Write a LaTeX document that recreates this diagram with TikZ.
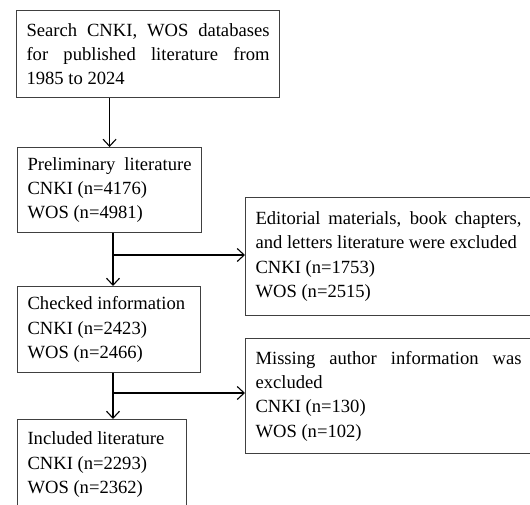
\documentclass[tikz,border=0pt]{standalone}
\usepackage{fontspec}
\setmainfont{Liberation Serif}
\usetikzlibrary{arrows.meta,positioning}

\begin{document}
\begin{tikzpicture}[x=1pt, y=-1pt]
		\tikzstyle{Box}		= [draw=black!75, line width=1.1pt, anchor=north west, align=justify, inner xsep=10pt, inner ysep=3pt, font=\fontsize{18.6}{24.4}\selectfont]
		\tikzstyle{Flow}	= [-{Straight Barb[length=7pt, width=13pt]}, line width=1.1pt]

		\useasboundingbox (0,0) rectangle (530,504);

		\node (search) at (16,10) [Box, text width=243pt, minimum height=87pt] {Search CNKI, WOS databases\linebreak for published literature from\linebreak 1985 to 2024};
		\node (prelim) at (17,147) [Box, text width=164pt, minimum height=85pt] {Preliminary literature\linebreak CNKI (n=4176)\\ WOS (n=4981)};
		\node (editorial) at (245,197) [Box, text width=266pt, minimum height=118pt] {Editorial materials, book chapters,\linebreak and letters literature were excluded\\ CNKI (n=1753)\\ WOS (n=2515)};
		\node (checked) at (17,286) [Box, text width=163pt, minimum height=86pt] {Checked information\\ CNKI (n=2423)\\ WOS (n=2466)};
		\node (missing) at (245,338) [Box, text width=266pt, minimum height=115pt] {Missing author information was\linebreak excluded\\ CNKI (n=130)\\ WOS (n=102)};
		\node (included) at (17,419) [Box, text width=149pt, minimum height=90pt] {Included literature\\ CNKI (n=2293)\\ WOS (n=2362)};

		\coordinate (j1) at (113,255);
		\coordinate (j2) at (113,393);

		\draw [Flow] (search.south -| prelim.north) to (prelim.north);
		\draw [Flow] (prelim.south -| j1) to (checked.north -| j1);
		\draw [Flow] (j1) to (j1 -| editorial.west);
		\draw [Flow] (checked.south -| j2) to (included.north -| j2);
		\draw [Flow] (j2) to (j2 -| missing.west);
	\end{tikzpicture}
\end{document}
